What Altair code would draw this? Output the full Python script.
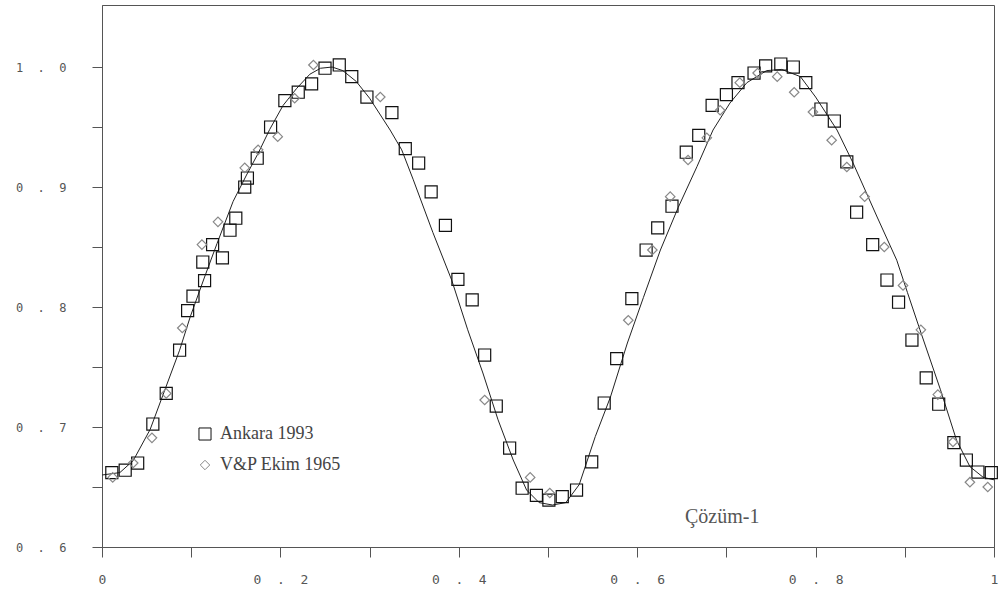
import altair as alt
import pandas as pd

# Solid curve
curve_x = [0.0, 0.02, 0.035, 0.054, 0.068, 0.087, 0.099, 0.115, 0.129, 0.147, 0.162, 0.175,
           0.188, 0.203, 0.218, 0.233, 0.245, 0.258, 0.27, 0.285, 0.30, 0.323, 0.336, 0.349,
           0.371, 0.392, 0.41, 0.427, 0.444, 0.461, 0.476, 0.49, 0.505, 0.52, 0.535, 0.553,
           0.57, 0.589, 0.607, 0.626, 0.646, 0.667, 0.685, 0.704, 0.723, 0.745, 0.762, 0.783,
           0.80, 0.824, 0.842, 0.869, 0.891, 0.903, 0.917, 0.94, 0.958, 0.973, 0.988, 1.0]
curve_y = [0.660, 0.662, 0.672, 0.698, 0.726, 0.764, 0.792, 0.825, 0.853, 0.888, 0.910, 0.928,
           0.948, 0.968, 0.982, 0.994, 0.999, 1.0, 0.997, 0.988, 0.974, 0.9475, 0.931, 0.906,
           0.862, 0.8225, 0.781, 0.745, 0.706, 0.6725, 0.6475, 0.637, 0.635, 0.637, 0.652, 0.692,
           0.725, 0.77, 0.808, 0.8475, 0.883, 0.917, 0.9475, 0.97, 0.987, 0.997, 0.998, 0.992,
           0.975, 0.9475, 0.92, 0.875, 0.839, 0.812, 0.781, 0.731, 0.689, 0.667, 0.658, 0.656]

# Ankara 1993 (squares)
ankara_x = [0.011, 0.026, 0.040, 0.057, 0.072, 0.087, 0.096, 0.102, 0.113, 0.115, 0.124, 0.135,
            0.1435, 0.150, 0.160, 0.163, 0.174, 0.189, 0.205, 0.220, 0.235, 0.250, 0.266, 0.280,
            0.297, 0.325, 0.340, 0.355, 0.369, 0.385, 0.399, 0.415, 0.429, 0.442, 0.457, 0.471,
            0.487, 0.501, 0.516, 0.532, 0.549, 0.563, 0.577, 0.594, 0.610, 0.623, 0.639, 0.655,
            0.669, 0.684, 0.700, 0.713, 0.731, 0.744, 0.761, 0.775, 0.789, 0.806, 0.821, 0.835,
            0.846, 0.864, 0.880, 0.893, 0.908, 0.924, 0.938, 0.955, 0.969, 0.982, 0.997]
ankara_y = [0.662, 0.664, 0.670, 0.7025, 0.728, 0.764, 0.797, 0.809, 0.8375, 0.822, 0.852, 0.841,
            0.864, 0.874, 0.900, 0.9075, 0.924, 0.950, 0.972, 0.979, 0.986, 0.999, 1.0017, 0.992,
            0.975, 0.962, 0.932, 0.920, 0.896, 0.868, 0.823, 0.806, 0.760, 0.7175, 0.6825, 0.649,
            0.643, 0.639, 0.642, 0.6475, 0.671, 0.720, 0.757, 0.807, 0.8475, 0.866, 0.884, 0.929,
            0.943, 0.968, 0.977, 0.987, 0.995, 1.001, 1.0025, 1.0, 0.987, 0.965, 0.955, 0.921,
            0.879, 0.852, 0.8225, 0.804, 0.7725, 0.741, 0.719, 0.687, 0.6725, 0.6625, 0.662]

# V&P Ekim 1965 (diamonds)
vp_x = [0.012, 0.035, 0.056, 0.072, 0.090, 0.112, 0.130, 0.160, 0.175, 0.197, 0.216, 0.237,
        0.312, 0.429, 0.480, 0.502, 0.590, 0.617, 0.637, 0.657, 0.678, 0.693, 0.715, 0.735,
        0.757, 0.776, 0.797, 0.818, 0.835, 0.855, 0.877, 0.898, 0.918, 0.937, 0.954, 0.973, 0.993]
vp_y = [0.658, 0.670, 0.691, 0.728, 0.7825, 0.852, 0.871, 0.916, 0.931, 0.942, 0.974, 1.0017,
        0.975, 0.7225, 0.658, 0.645, 0.789, 0.8475, 0.892, 0.9225, 0.941, 0.964, 0.987, 0.995,
        0.992, 0.979, 0.9625, 0.939, 0.9167, 0.892, 0.85, 0.818, 0.781, 0.727, 0.6875, 0.654, 0.65]

series_names = ["Ankara 1993", "V&P Ekim 1965"]
annotation = ["Çözüm-1"]
x_ticks = [0.0, 0.1, 0.2, 0.3, 0.4, 0.5, 0.6, 0.7, 0.8, 0.9, 1.0]
y_ticks = [0.6, 0.65, 0.7, 0.75, 0.8, 0.85, 0.9, 0.95, 1.0]

curve_df = pd.DataFrame({"x": curve_x, "y": curve_y})
pts_df = pd.DataFrame({
    "x": ankara_x + vp_x,
    "y": ankara_y + vp_y,
    "series": [series_names[0]] * len(ankara_x) + [series_names[1]] * len(vp_x),
})
ann_df = pd.DataFrame({"t": annotation})

xscale = alt.Scale(domain=[0, 1], nice=False, zero=False)
yscale = alt.Scale(domain=[0.6, 1.0517], nice=False, zero=False)

SP = "\u00a0\u00a0"  # wide spacing in the dotted tick labels

axis_common = dict(
    title=None, grid=False, tickSize=10, tickColor="#555", domainColor="#555",
    labelFont="DejaVu Sans Mono", labelColor="#555", labelOverlap=False, labelFlush=False,
)
xaxis = alt.Axis(
    values=x_ticks, labelFontSize=13, labelPadding=16,
    labelExpr="datum.value == 0 ? '0' : datum.value == 1 ? '1' : "
              f"(round(datum.value*10) % 2 == 0 ? '0{SP}.{SP}' + round(datum.value*10) : '')",
    **axis_common,
)
yaxis = alt.Axis(
    values=y_ticks, labelFontSize=12, labelPadding=26,
    labelExpr="round(datum.value*100) % 10 == 0 ? "
              f"replace(format(datum.value, '.1f'), '.', '{SP}.{SP}') : ''",
    **axis_common,
)

line = alt.Chart(curve_df).mark_line(color="#222", strokeWidth=1).encode(
    x=alt.X("x:Q", scale=xscale, axis=xaxis),
    y=alt.Y("y:Q", scale=yscale, axis=yaxis),
)

leg = dict(title=None, orient="none", legendX=94, legendY=420)
points = alt.Chart(pts_df).mark_point(filled=False, opacity=1, strokeWidth=1.2).encode(
    x=alt.X("x:Q", scale=xscale),
    y=alt.Y("y:Q", scale=yscale),
    shape=alt.Shape("series:N", scale=alt.Scale(domain=series_names, range=["square", "diamond"]),
                    legend=alt.Legend(**leg)),
    stroke=alt.Stroke("series:N", scale=alt.Scale(domain=series_names, range=["#111", "#888"]),
                      legend=alt.Legend(**leg)),
    size=alt.Size("series:N", scale=alt.Scale(domain=series_names, range=[145, 90]),
                  legend=alt.Legend(**leg)),
)

text = alt.Chart(ann_df).mark_text(
    font="Liberation Serif", fontSize=20, color="#555", align="left", baseline="middle"
).encode(text="t:N", x=alt.value(583), y=alt.value(512))

chart = alt.layer(line, points, text).properties(
    width=892, height=542,
    autosize=alt.AutoSizeParams(type="none"),
    padding={"left": 102, "top": 5, "right": 5, "bottom": 46},
).configure_view(stroke="#555", strokeWidth=1).configure_legend(
    labelFont="Liberation Serif", labelFontSize=18, labelColor="#444",
    labelOffset=6, rowPadding=13, padding=0, symbolStrokeWidth=1,
)

chart.save("out.html", embed_options={"renderer": "svg", "actions": False})
